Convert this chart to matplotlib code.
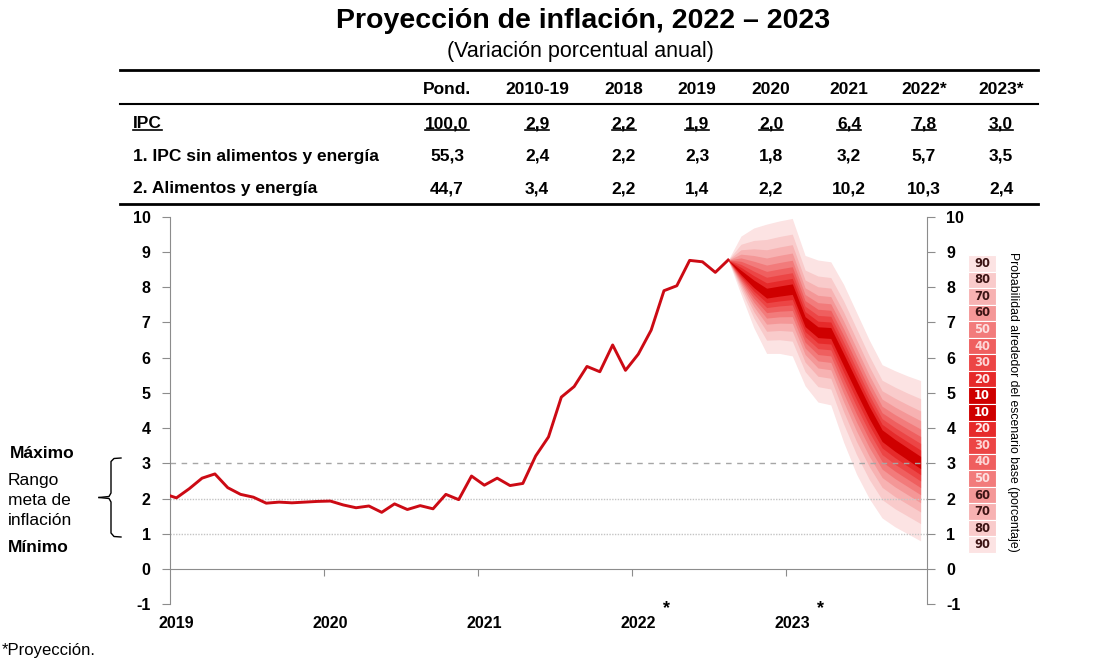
"""Fan chart: Peru CPI inflation 2019-2023 with the 2022-2023 projection bands."""
from statistics import NormalDist

import matplotlib

matplotlib.use("Agg")

import matplotlib.pyplot as plt  # noqa: E402
from matplotlib.lines import Line2D  # noqa: E402
from matplotlib.patches import Rectangle  # noqa: E402

plt.rcParams["font.family"] = ["Liberation Sans", "DejaVu Sans"]
plt.rcParams["axes.unicode_minus"] = False  # the source uses a plain hyphen for -1

W, H = 1104, 664  # output size in pixels (dpi 100)

# --- summary table ---
TABLE_COLS = ["Pond.", "2010-19", "2018", "2019", "2020", "2021", "2022*", "2023*"]
TABLE_ROWS = ["IPC", "1. IPC sin alimentos y energía", "2. Alimentos y energía"]
IPC_VALUES = ["100,0", "2,9", "2,2", "1,9", "2,0", "6,4", "7,8", "3,0"]
CORE_VALUES = ["55,3", "2,4", "2,2", "2,3", "1,8", "3,2", "5,7", "3,5"]
FOOD_ENERGY_VALUES = ["44,7", "3,4", "2,2", "1,4", "2,2", "10,2", "10,3", "2,4"]

# --- monthly series, month 0 = Jan-2019 ---
YEARS = ["2019", "2020", "2021", "2022", "2023"]
PROJECTED_YEARS = ["2022", "2023"]

# observed CPI, Jan-2019 .. Sep-2022 (last point is where the fan starts)
ipc_observed = [
    2.14, 2.02, 2.28, 2.58, 2.70, 2.31, 2.12, 2.04, 1.87, 1.90, 1.88, 1.90,
    1.92, 1.93, 1.82, 1.74, 1.79, 1.61, 1.85, 1.69, 1.80, 1.71, 2.12, 1.97,
    2.64, 2.38, 2.58, 2.37, 2.43, 3.21, 3.75, 4.88, 5.18, 5.75, 5.60, 6.36,
    5.64, 6.10, 6.78, 7.90, 8.04, 8.76, 8.72, 8.42, 8.77,
]
# projection, Sep-2022 .. Dec-2023
proj_central = [
    8.77, 8.40, 8.08, 7.82, 7.88, 7.94, 7.02, 6.72, 6.70, 5.95,
    5.20, 4.46, 3.80, 3.52, 3.27, 3.02,
]
proj_upper90 = [
    8.77, 9.45, 9.68, 9.79, 9.88, 9.95, 8.90, 8.77, 8.72, 8.08,
    7.29, 6.50, 5.80, 5.63, 5.48, 5.35,
]
proj_lower90 = [
    8.77, 7.80, 6.85, 6.12, 6.12, 6.05, 5.20, 4.74, 4.66, 3.60,
    2.70, 2.00, 1.45, 1.20, 1.00, 0.80,
]
PROJ_START = len(ipc_observed) - 1

# probability bands around the base scenario (inner -> outer)
PROB_LEVELS = [10, 20, 30, 40, 50, 60, 70, 80, 90]
PROB_COLORS = ["#cf0000", "#e62a2a", "#ec4545", "#ef5f5f", "#f27b7b",
               "#f49797", "#f7b2b2", "#f9cbcb", "#fce3e3"]
PROB_TEXT_COLORS = ["#ffffff", "#ffe8e8", "#fdd6d6", "#fdd6d6", "#fde0e0",
                    "#3c1414", "#3c1414", "#3c1414", "#3c1414"]

TARGET_MAX, TARGET_MID, TARGET_MIN = 3, 2, 1
RANGE_LABELS = ["Rango", "meta de", "inflación"]

RED = "#cc0a14"
GREY = "#8c8c8c"


def fx(px):
    return px / W


def fy(py):
    return 1 - py / H


fig = plt.figure(figsize=(W / 100, H / 100), dpi=100)

# ---------- titles ----------
fig.text(fx(583), fy(21), "Proyección de inflación, 2022 – 2023", ha="center",
         va="center", fontsize=20.5, fontweight="bold")
fig.text(fx(580), fy(52), "(Variación porcentual anual)", ha="center",
         va="center", fontsize=15.5)

# ---------- table ----------
col_x = [447, 537, 624, 697, 771, 849, 924, 1001]
row_y = [124, 156, 189]
for y, lw in [(70, 2.0), (104, 1.5), (204, 2.0)]:
    fig.add_artist(Line2D([fx(120), fx(1038)], [fy(y), fy(y)], color="black", lw=lw))

for x, name in zip(col_x, TABLE_COLS):
    fig.text(fx(x), fy(89.5), name, ha="center", va="center", fontsize=12.5,
             fontweight="bold")

underlined = []
for y, label, values in zip(row_y, TABLE_ROWS,
                            [IPC_VALUES, CORE_VALUES, FOOD_ENERGY_VALUES]):
    t = fig.text(fx(133), fy(y), label, ha="left", va="center", fontsize=12.5,
                 fontweight="bold")
    cells = [fig.text(fx(x), fy(y), v, ha="center", va="center", fontsize=12.5,
                      fontweight="bold") for x, v in zip(col_x, values)]
    if label == "IPC":
        underlined = [t] + cells

# ---------- chart ----------
ax = fig.add_axes([fx(170), fy(604.3), 757 / W, 387.6 / H])
ax.set_xlim(0, 59)
ax.set_ylim(-1, 10)

# fan: band edges follow normal quantiles scaled to the 90% upper / lower edges
z = [NormalDist().inv_cdf(0.5 + p / 200) for p in PROB_LEVELS]
ratios = [v / z[-1] for v in z]
x_proj = [PROJ_START + i - 0.5 for i in range(len(proj_central))]
for ratio, color in reversed(list(zip(ratios, PROB_COLORS))):
    upper = [c + (u - c) * ratio for c, u in zip(proj_central, proj_upper90)]
    lower = [c - (c - lo) * ratio for c, lo in zip(proj_central, proj_lower90)]
    ax.fill_between(x_proj, lower, upper, color=color, lw=0, zorder=1)

# inflation target range
ax.axhline(TARGET_MAX, color="#a6a6a6", lw=1, ls=(0, (4, 4)), zorder=2)
ax.axhline(TARGET_MID, color="#c4c4c4", lw=1, ls=(0, (1, 1)), zorder=2)
ax.axhline(TARGET_MIN, color="#c4c4c4", lw=1, ls=(0, (1, 1)), zorder=2)

x_obs = [k - 0.5 for k in range(len(ipc_observed))]
ax.plot(x_obs, ipc_observed, color=RED, lw=2.1, zorder=4)

# axes styling
for side in ["left", "right"]:
    ax.spines[side].set_color(GREY)
ax.spines["top"].set_visible(False)
ax.spines["bottom"].set_position(("data", 0))
ax.spines["bottom"].set_color(GREY)

ax.set_yticks(range(-1, 11))
ax.tick_params(axis="y", left=True, right=True, labelleft=True, labelright=True,
               direction="out", length=6, color=GREY, pad=8, labelsize=11.5)
for tick in ax.yaxis.get_major_ticks():
    tick.label1.set_fontweight("bold")
    tick.label2.set_fontweight("bold")

ax.set_xticks([12 * i for i in range(1, len(YEARS))])
ax.set_xticklabels([])
ax.tick_params(axis="x", direction="out", length=5, color=GREY)

for i, year in enumerate(YEARS):
    ax.text(12 * i + 0.5, -1.55, year, ha="center", va="center", fontsize=11.5,
            fontweight="bold", clip_on=False)
    if year in PROJECTED_YEARS:
        ax.text(12 * i + 2.7, -1.12, "*", ha="center", va="center", fontsize=13,
                fontweight="bold", clip_on=False)

# ---------- target range annotation on the left ----------
fig.text(fx(10), fy(453), "Máximo", ha="left", va="center", fontsize=12.5,
         fontweight="bold")
for y, line in zip([480, 500.5, 520.5], RANGE_LABELS):
    fig.text(fx(8), fy(y), line, ha="left", va="center", fontsize=12.5)
fig.text(fx(8), fy(547), "Mínimo", ha="left", va="center", fontsize=12.5,
         fontweight="bold")

brace_top = [(121, 458), (114, 458.5), (111, 461.5), (111, 493), (109, 496.5), (99, 497.5)]
brace_bottom = [(99, 497.5), (109, 498.5), (111, 502), (111, 533), (114, 536.5), (121, 537)]
for pts in (brace_top, brace_bottom):
    fig.add_artist(Line2D([fx(p[0]) for p in pts], [fy(p[1]) for p in pts],
                          color="black", lw=1))

# ---------- probability legend on the right ----------
legend_levels = list(reversed(range(len(PROB_LEVELS)))) + list(range(len(PROB_LEVELS)))
box_top, box_h, box_x, box_w = 255, 298 / 18, 968, 28
for j, lvl in enumerate(legend_levels):
    y0 = box_top + j * box_h
    fig.add_artist(Rectangle((fx(box_x), fy(y0 + box_h)), box_w / W, box_h / H,
                             transform=fig.transFigure, facecolor=PROB_COLORS[lvl],
                             edgecolor="white", lw=0.8))
    fig.text(fx(box_x + box_w / 2), fy(y0 + box_h / 2), str(PROB_LEVELS[lvl]),
             ha="center", va="center", fontsize=8.3, fontweight="bold",
             family="DejaVu Sans", color=PROB_TEXT_COLORS[lvl])
fig.text(fx(1013), fy(402), "Probabilidad alrededor del escenario base (porcentaje)",
         ha="center", va="center", rotation=-90, fontsize=8.8)

fig.text(fx(2), fy(651), "*Proyección.", ha="left", va="center", fontsize=12)

# underline the IPC row once text extents are known
fig.canvas.draw()
renderer = fig.canvas.get_renderer()
to_fig = fig.transFigure.inverted()
for t in underlined:
    bb = t.get_window_extent(renderer)
    (x0, y0), (x1, _) = to_fig.transform([(bb.x0, bb.y0 + 2), (bb.x1, bb.y0 + 2)])
    fig.add_artist(Line2D([x0, x1], [y0, y0], color="black", lw=1.2))

fig.savefig("out.png", dpi=100)
